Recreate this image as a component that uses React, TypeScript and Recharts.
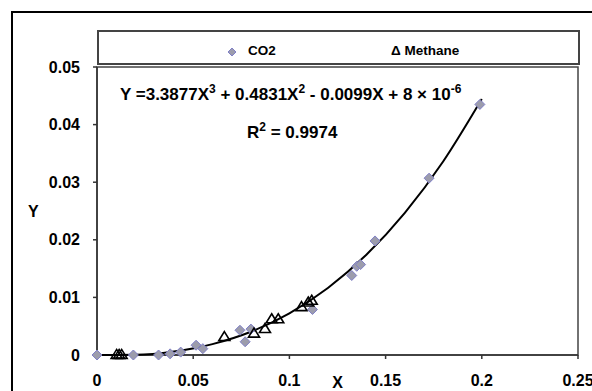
import {
  ScatterChart,
  Scatter,
  XAxis,
  YAxis,
  ReferenceArea,
  Customized,
  Label,
} from 'recharts';

const co2X = [0, 0.0189, 0.032, 0.038, 0.0435, 0.0515, 0.055, 0.0743, 0.077, 0.08, 0.112, 0.1324, 0.135, 0.137, 0.1445, 0.1726, 0.199];
const co2Y = [0, 0, 0, 0.0002, 0.0005, 0.0017, 0.0011, 0.0043, 0.0023, 0.0045, 0.0079, 0.0138, 0.0154, 0.0157, 0.0198, 0.0307, 0.0435];

const methaneX = [0.0102, 0.0115, 0.0128, 0.0662, 0.0816, 0.0873, 0.0908, 0.0942, 0.1063, 0.1098, 0.1116];
const methaneY = [0.0001, 0.0001, 0.0001, 0.0032, 0.0038, 0.0046, 0.0063, 0.0063, 0.0084, 0.0092, 0.0095];

// points
const trendX = [0, 0.02, 0.04, 0.06, 0.08, 0.1, 0.12, 0.14, 0.16, 0.18, 0.2];
const trendY = [0.000008, 0.00003, 0.0006, 0.00189, 0.00404, 0.00724, 0.01163, 0.01739, 0.02467, 0.03364, 0.04445];

const xTicks = [0, 0.05, 0.1, 0.15, 0.2, 0.25];
const yTicks = [0, 0.01, 0.02, 0.03, 0.04, 0.05];

const co2Data = co2X.map((x, i) => ({ x, y: co2Y[i] }));
const methaneData = methaneX.map((x, i) => ({ x, y: methaneY[i] }));
const trendData = trendX.map((x, i) => ({ x, y: trendY[i] }));

const FONT = '"Liberation Sans", Arial, sans-serif';

const Diamond = (props: any) => {
  const { cx, cy } = props;
  const r = 5;
  return (
    <polygon
      points={`${cx},${cy - r} ${cx + r},${cy} ${cx},${cy + r} ${cx - r},${cy}`}
      fill="#9c9cac"
      stroke="#8080c8"
      strokeWidth={1}
    />
  );
};

const Triangle = (props: any) => {
  const { cx, cy } = props;
  return (
    <polygon
      points={`${cx},${cy - 5} ${cx + 5.5},${cy + 4} ${cx - 5.5},${cy + 4}`}
      fill="none"
      stroke="#000"
      strokeWidth={1.6}
    />
  );
};

const NoDot = () => null;

const LegendBox = () => (
  <div
    style={{
      position: 'absolute',
      left: 97,
      top: 30,
      width: 479,
      height: 31,
      border: '2px solid #444',
      fontFamily: FONT,
      fontWeight: 'bold',
      fontSize: 13.5,
      color: '#000',
    }}
  >
    <svg width={12} height={12} style={{ position: 'absolute', left: 127, top: 14 }}>
      <polygon points="6,2 10,6 6,10 2,6" fill="#9c9cac" stroke="#8080c8" strokeWidth={1} />
    </svg>
    <span style={{ position: 'absolute', left: 149, top: 11 }}>CO2</span>
    <span style={{ position: 'absolute', left: 292, top: 11 }}>Δ Methane</span>
  </div>
);

const Equation = () => (
  <g fontFamily={FONT} fontWeight="bold" fill="#000">
    <text x={112} y={92} fontSize={17}>
      Y =3.3877X<tspan dy={-7} fontSize={12}>3</tspan>
      <tspan dy={7}> + 0.4831X</tspan>
      <tspan dy={-7} fontSize={12}>2</tspan>
      <tspan dy={7}> - 0.0099X + 8 × 10</tspan>
      <tspan dy={-7} fontSize={12}>-6</tspan>
    </text>
    <text x={239} y={130} fontSize={17}>
      R<tspan dy={-7} fontSize={12}>2</tspan>
      <tspan dy={7}> = 0.9974</tspan>
    </text>
  </g>
);

const tickStyle = { fontFamily: FONT, fontWeight: 'bold', fontSize: 16, fill: '#000' };

export default function App() {
  return (
    <div style={{ position: 'absolute', left: 0, top: 0, width: 592, height: 391, overflow: 'hidden', background: '#fff' }}>
      <div
        style={{
          position: 'absolute',
          left: 11,
          top: 11,
          width: 700,
          height: 500,
          borderTop: '2px solid #000',
          borderLeft: '2px solid #000',
        }}
      />
      <ScatterChart
        width={584}
        height={383}
        margin={{ top: 59, right: 14, bottom: 0, left: 0 }}
        style={{ position: 'absolute', left: 8, top: 8 }}
      >
        <XAxis
          type="number"
          dataKey="x"
          domain={[0, 0.25]}
          ticks={xTicks}
          height={36}
          stroke="#333"
          strokeWidth={1.5}
          tickSize={4}
          tickMargin={16}
          tick={tickStyle}
          tickFormatter={(v: number) => String(v)}
        >
          <Label value="X" position="insideBottom" offset={3} style={tickStyle} />
        </XAxis>
        <YAxis
          type="number"
          dataKey="y"
          domain={[0, 0.05]}
          ticks={yTicks}
          width={89}
          stroke="#333"
          strokeWidth={1.5}
          tickSize={4}
          tickMargin={13}
          tick={tickStyle}
          tickFormatter={(v: number) => String(v)}
        >
          <Label value="Y" position="insideLeft" offset={20} style={tickStyle} />
        </YAxis>
        <ReferenceArea x1={0} x2={0.25} y1={0} y2={0.05} fill="none" stroke="#444" strokeWidth={1.5} strokeOpacity={1} />
        <Scatter
          name="trend"
          data={trendData}
          line={{ stroke: '#000', strokeWidth: 2 }}
          lineJointType="monotoneX"
          shape={NoDot}
          legendType="none"
          isAnimationActive={false}
        />
        <Scatter name="CO2" data={co2Data} shape={Diamond} isAnimationActive={false} />
        <Scatter name="Methane" data={methaneData} shape={Triangle} isAnimationActive={false} />
        <Customized component={Equation} />
      </ScatterChart>
      <LegendBox />
    </div>
  );
}
